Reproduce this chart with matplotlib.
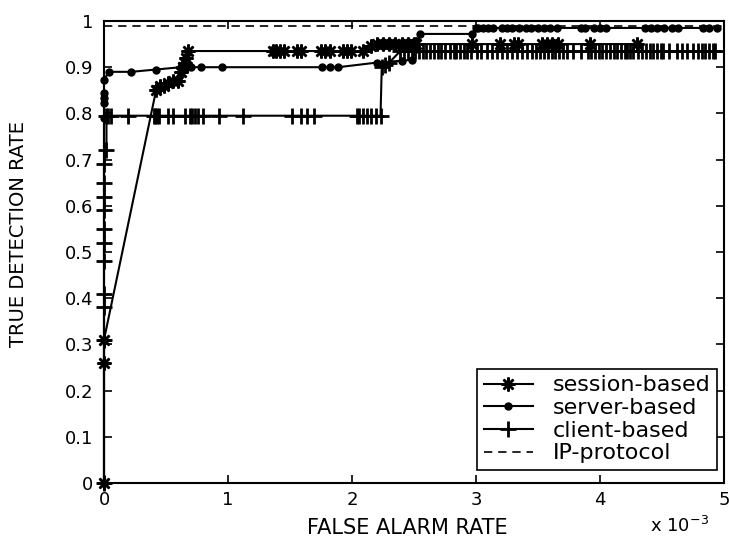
import numpy as np
import matplotlib
matplotlib.use("Agg")
import matplotlib.pyplot as plt

# False alarm rate in units of 1e-3, true detection rate as fraction
session_far = [0, 0, 0, 0.42, 0.45, 0.48, 0.52, 0.56, 0.60, 0.62, 0.64, 0.65, 0.66, 0.68,
               1.36, 1.39, 1.42, 1.45, 1.56, 1.59, 1.75, 1.78, 1.82, 1.93, 1.96, 1.99, 2.09,
               2.15, 2.20, 2.25, 2.30, 2.35, 2.40, 2.45, 2.50, 2.52,
               2.97, 3.19, 3.31, 3.34, 3.53, 3.57, 3.61, 3.66, 3.92, 4.30]
session_tdr = [0, 0.26, 0.31, 0.85, 0.86, 0.86, 0.865, 0.87, 0.87, 0.89, 0.90, 0.91, 0.92, 0.935,
               0.935, 0.935, 0.935, 0.935, 0.935, 0.935, 0.935, 0.935, 0.935, 0.935, 0.935, 0.935, 0.935,
               0.945, 0.95, 0.95, 0.95, 0.95, 0.95, 0.95, 0.95, 0.95,
               0.95, 0.95, 0.95, 0.95, 0.95, 0.95, 0.95, 0.95, 0.95, 0.95]

server_far = [0, 0, 0, 0, 0, 0, 0.04, 0.22, 0.42, 0.62, 0.66, 0.70, 0.78, 0.95,
              1.76, 1.82, 1.89, 2.20, 2.40, 2.48, 2.52, 2.55, 2.97,
              3.00, 3.02, 3.06, 3.10, 3.14, 3.21, 3.25, 3.29, 3.35, 3.40, 3.44, 3.50, 3.55,
              3.60, 3.65, 3.85, 3.88, 3.95, 4.00, 4.05, 4.36, 4.41, 4.46, 4.52, 4.58, 4.63,
              4.83, 4.88, 4.94]
server_tdr = [0, 0.79, 0.823, 0.834, 0.845, 0.873, 0.89, 0.89, 0.895, 0.90, 0.90, 0.90, 0.90, 0.90,
              0.90, 0.90, 0.90, 0.91, 0.914, 0.916, 0.94, 0.972, 0.972,
              0.985, 0.985, 0.985, 0.985, 0.985, 0.985, 0.985, 0.985, 0.985, 0.985, 0.985, 0.985, 0.985,
              0.985, 0.985, 0.985, 0.985, 0.985, 0.985, 0.985, 0.985, 0.985, 0.985, 0.985, 0.985, 0.985,
              0.985, 0.985, 0.985]

client_far = [0, 0, 0, 0, 0, 0, 0, 0, 0, 0, 0, 0.02, 0.02,
              0.03, 0.06, 0.19, 0.40, 0.41, 0.43, 0.44, 0.52, 0.56, 0.65, 0.69, 0.71, 0.73, 0.76,
              0.80, 0.93, 1.12, 1.52, 1.59, 1.64, 1.69, 2.04, 2.06, 2.09, 2.12, 2.15, 2.19, 2.23,
              2.24, 2.27, 2.30,
              2.39, 2.42, 2.45, 2.48, 2.51, 2.54, 2.57, 2.60, 2.63, 2.66, 2.69, 2.72, 2.75, 2.79,
              2.82, 2.84, 2.87, 2.90, 2.93, 2.96, 3.01, 3.04, 3.09, 3.13, 3.17, 3.21, 3.25, 3.29,
              3.33, 3.37, 3.41, 3.45, 3.48, 3.52, 3.55, 3.58, 3.61, 3.64, 3.67, 3.70, 3.73, 3.78,
              3.85, 3.90, 3.93, 3.96, 3.99, 4.02, 4.05, 4.08, 4.11, 4.14, 4.17, 4.20, 4.22, 4.24,
              4.27, 4.31, 4.34, 4.37, 4.40, 4.43, 4.46, 4.49, 4.51, 4.56, 4.62, 4.66, 4.70, 4.75,
              4.79, 4.82, 4.85, 4.88, 4.91, 4.93]
client_tdr = [0, 0.31, 0.38, 0.41, 0.48, 0.52, 0.55, 0.59, 0.62, 0.65, 0.69, 0.72, 0.795,
              0.795, 0.795, 0.795, 0.795, 0.795, 0.795, 0.795, 0.795, 0.795, 0.795, 0.795, 0.795, 0.795, 0.795,
              0.795, 0.795, 0.795, 0.795, 0.795, 0.795, 0.795, 0.795, 0.795, 0.795, 0.795, 0.795, 0.795, 0.795,
              0.90, 0.905, 0.91] + [0.935] * 76

ip_far = [0, 5]
ip_tdr = [0.99, 0.99]

plt.rcParams['font.family'] = ['DejaVu Sans']

fig = plt.figure(figsize=(7.29, 5.43), dpi=100)
ax = fig.add_axes([104 / 729, 1 - 483 / 543, 620 / 729, 462 / 543])

# markers sit on top of the axis lines like in the original, so no clipping
ax.plot(session_far, session_tdr, color='black', lw=1.5, marker=(8, 2, 0), ms=10, mew=1.8,
        label='session-based', clip_on=False, zorder=3)
ax.plot(server_far, server_tdr, color='black', lw=1.5, marker='o', ms=5, label='server-based',
        clip_on=False, zorder=3)
ax.plot(client_far, client_tdr, color='black', lw=1.5, marker='+', ms=11, mew=2,
        label='client-based', clip_on=False, zorder=3)
ax.plot(ip_far, ip_tdr, color='black', lw=1.2, linestyle=(0, (5, 3.5)), label='IP-protocol')

ax.set_xlim(0, 5)
ax.set_ylim(0, 1)
ax.set_xticks(np.arange(0, 6, 1))
ax.set_yticks(np.arange(0, 1.01, 0.1))
ax.set_xticklabels(['0', '1', '2', '3', '4', '5'])
ax.set_yticklabels(['0', '0.1', '0.2', '0.3', '0.4', '0.5', '0.6', '0.7', '0.8', '0.9', '1'])
ax.tick_params(direction='in', length=6, width=1.2, top=True, right=True, labelsize=13)
ax.tick_params(axis='x', pad=6)
ax.tick_params(axis='y', pad=8)
for s in ax.spines.values():
    s.set_linewidth(1.5)

ax.set_xlabel('FALSE ALARM RATE', fontsize=15)
ax.set_ylabel('TRUE DETECTION RATE', fontsize=14)
ax.xaxis.set_label_coords(0.49, -0.075)
ax.yaxis.set_label_coords(-0.123, 0.54)

fig.text(650 / 729, 1 - 532 / 543, 'x 10$^{-3}$', fontsize=13, va='baseline', ha='left')

leg = ax.legend(loc='lower right', bbox_to_anchor=(0.989, 0.028), fontsize=16, frameon=True,
                fancybox=False, framealpha=1, edgecolor='black', handlelength=2.2,
                handletextpad=0.9, labelspacing=0.12, borderpad=0.3, borderaxespad=0)
leg.get_frame().set_linewidth(1.2)
leg.set_zorder(5)

fig.savefig('out.png', dpi=100)
